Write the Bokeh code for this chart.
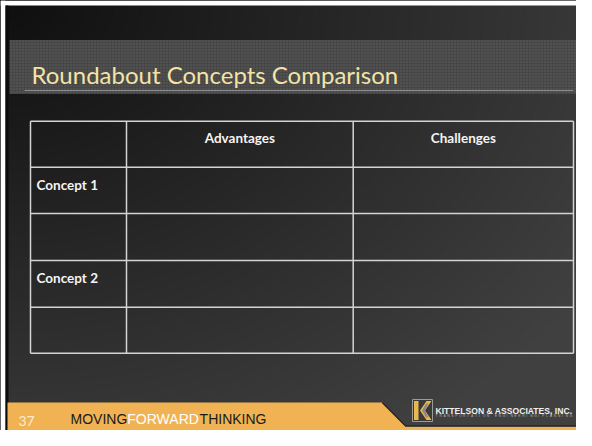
import numpy as np
from bokeh.plotting import figure
from bokeh.models import Range1d
from bokeh.embed import file_html
from bokeh.resources import INLINE
from bokeh.core.properties import value

# ---- content ----
title = "Roundabout Concepts Comparison"
col_headers = ["", "Advantages", "Challenges"]
row_labels = ["Concept 1", "", "Concept 2", ""]
slide_number = "37"
slogan_parts = ["MOVING", "FORWARD", "THINKING"]
slogan_colors = ["#1a1a1a", "#ffffff", "#1a1a1a"]
company = "KITTELSON & ASSOCIATES, INC."
tagline = "TRANSPORTATION ENGINEERING/PLANNING"

# ---- layout (pixel space of the slide) ----
W, H = 576, 430          # fits a 592x446 window with 8px page margins
X0, Y0 = 0, 0
XR, YB = X0 + W, Y0 + H
SL = 5                    # slide's left/top edge
FB = -12                  # footer band offset so it stays inside the figure
FT = -16                  # footer text / logo offset

p = figure(width=W, height=H, x_range=Range1d(X0, XR), y_range=Range1d(YB, Y0),
           output_backend="svg", toolbar_location=None, min_border=0)
p.axis.visible = False
p.grid.visible = False
p.outline_line_color = None
p.background_fill_color = "#404040"
p.border_fill_color = "#ffffff"

# background radial gradient from top-left corner (dark) to bottom-right (lighter)
levels = np.arange(64, 13, -1)
for v in levels:
    t = (v - 14) / 50.0
    col = "#%02x%02x%02x" % (v, v, v)
    p.ellipse(x=[0], y=[0], width=[2 * 592 * 1.2 * t], height=[2 * 446 * 1.2 * t],
              fill_color=col, line_color=None)

# white page margin of the reference and dark slide edge
p.quad(left=[X0, X0], right=[SL, XR], top=[Y0, Y0], bottom=[YB, SL],
       fill_color="#ffffff", line_color=None)
p.quad(left=[SL], right=[SL + 3], top=[SL], bottom=[YB], fill_color="#0c0c0c", line_color=None)

# title band
p.quad(left=[9], right=[XR], top=[39.5], bottom=[93.5], fill_color="#474747",
       hatch_pattern="dot", hatch_color="#5e5e5e", hatch_scale=3, hatch_weight=1,
       line_color=None)
p.segment(x0=[24], y0=[90], x1=[573], y1=[90], line_color="#8c8c8c", line_width=1)
p.text(x=[31], y=[74], text=[title], text_font=value("Lato"), text_font_size="24px",
       text_color="#f3e3a6", text_baseline="alphabetic")

# table
col_edges = [30, 126, 352.7, 573]
row_edges = [120.7, 166.7, 213, 260, 306.7, 352.7]
p.multi_line(xs=[[col_edges[0], col_edges[-1]] for _ in row_edges],
             ys=[[r, r] for r in row_edges], line_color="#d4d4d4", line_width=1.5)
p.multi_line(xs=[[c, c] for c in col_edges],
             ys=[[row_edges[0], row_edges[-1]] for _ in col_edges],
             line_color="#d4d4d4", line_width=1.5)

hx = [(col_edges[i] + col_edges[i + 1]) / 2 for i in range(len(col_headers))]
p.text(x=hx, y=[row_edges[0] + 16.3] * len(col_headers), text=col_headers,
       text_font=value("Lato"), text_font_style="bold", text_font_size="13.5px",
       text_color="#f4f4f4", text_align="center", text_baseline="alphabetic")
p.text(x=[col_edges[0] + 6] * len(row_labels),
       y=[row_edges[i + 1] + 17.6 for i in range(len(row_labels))],
       text=row_labels, text_font=value("Lato"), text_font_style="bold",
       text_font_size="13.5px", text_color="#f4f4f4", text_baseline="alphabetic")

# footer
fb = lambda vals: [v + FB for v in vals]
ft = lambda vals: [v + FT for v in vals]
p.patch(x=[SL + 2, 381.7, 405, XR, XR, SL + 2], y=fb([414, 414, 438.3, 438.3, 450, 450]),
        fill_color="#f0b252", line_color=None)
p.line(x=[381.7, 405, XR], y=fb([414, 437.3, 437.3]), line_color="#2a2a2a", line_width=1.5)
p.text(x=[18], y=ft([436.5]), text=[slide_number], text_font=value("Lato"),
       text_font_size="14px", text_color="#fbeed2", text_baseline="alphabetic")
p.text(x=[70, 126.8, 199.1], y=ft([434.3] * 3), text=slogan_parts,
       text_font=value("Liberation Sans"), text_font_size="14px",
       text_color=slogan_colors, text_baseline="alphabetic")

# logo mark
p.quad(left=[412], right=[432], top=ft([415]), bottom=ft([437]), fill_color="#3a3a3a",
       line_color="#9a9a9a", line_width=1)
p.quad(left=[413.5], right=[418], top=ft([416.5]), bottom=ft([435.5]), fill_color="#e9b84c",
       line_color=None)
p.patch(x=[431, 426, 419.5, 426, 431, 424.5], y=ft([416.5, 416.5, 426, 435.5, 435.5, 426]),
        fill_color="#e9b84c", line_color=None)
p.patch(x=[428, 425.5, 421.5, 425.5, 428, 424.5], y=ft([419, 419, 426, 433, 433, 426]),
        fill_color="#8a8a8a", line_color=None)
p.text(x=[435], y=ft([426]), text=[company], text_font=value("Liberation Sans"),
       text_font_style="bold", text_font_size="8.6px", text_color="#f0f0f0",
       text_baseline="alphabetic")
chars = list(tagline)
p.text(x=[435 + i * (138 / len(chars)) for i in range(len(chars))], y=ft([431.8] * len(chars)),
       text=chars, text_font=value("Liberation Sans"), text_font_size="3.5px",
       text_color="#b0b0b0", text_baseline="alphabetic")

open("out.html", "w").write(file_html(p, INLINE))
